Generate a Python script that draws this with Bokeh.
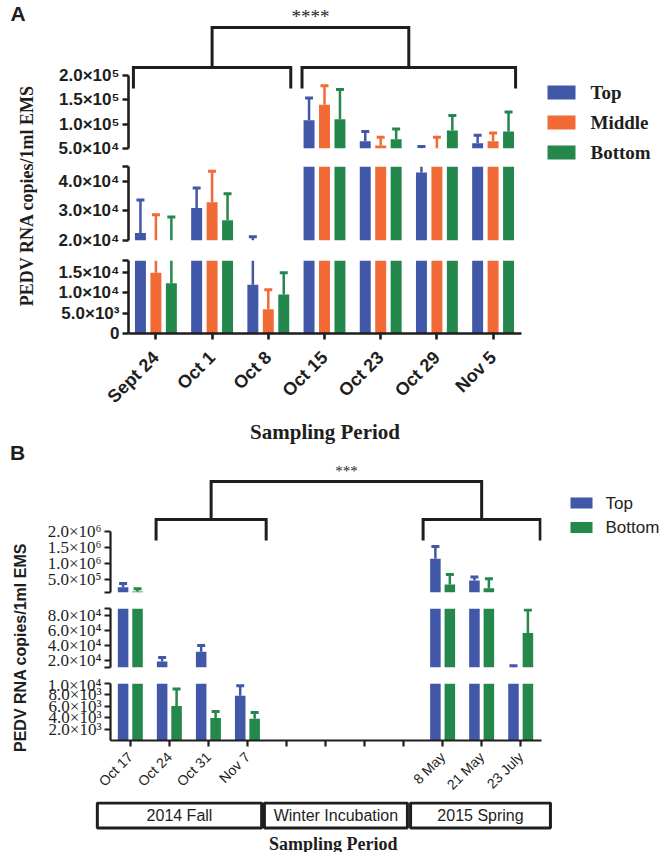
import math
import numpy as np
from bokeh.plotting import figure
from bokeh.layouts import row, column
from bokeh.models import Range1d, FixedTicker, ColumnDataSource
from bokeh.core.properties import value
from bokeh.embed import file_html
from bokeh.resources import INLINE

nan = float("nan")

# ---------------- Panel A data ----------------
dates_A = ["Sept 24", "Oct 1", "Oct 8", "Oct 15", "Oct 23", "Oct 29", "Nov 5"]
top_A = [2.25e4, 3.1e4, 1.2e4, 1.08e5, 6.5e4, 4.3e4, 6.1e4]
top_A_err = [3.37e4, 3.77e4, 2.13e4, 1.54e5, 8.5e4, 5.4e4, 7.7e4]
middle_A = [1.5e4, 3.29e4, 6.0e3, 1.4e5, 5.6e4, 5.05e4, 6.5e4]
middle_A_err = [2.87e4, 4.34e4, 1.08e4, 1.79e5, 7.3e4, 7.3e4, 8.2e4]
bottom_A = [1.24e4, 2.68e4, 9.6e3, 1.1e5, 6.9e4, 8.7e4, 8.5e4]
bottom_A_err = [2.79e4, 3.58e4, 1.5e4, 1.71e5, 9.0e4, 1.18e5, 1.25e5]
series_A = ["Top", "Middle", "Bottom"]
sig_A = "****"

ticks_A_top = [50000, 100000, 150000, 200000]
labels_A_top = ["5.0×10⁴", "1.0×10⁵", "1.5×10⁵", "2.0×10⁵"]
ticks_A_mid = [20000, 30000, 40000, 45000]
labels_A_mid = ["2.0×10⁴", "3.0×10⁴", "4.0×10⁴", ""]
ticks_A_bot = [0, 5000, 10000, 15000, 18000]
labels_A_bot = ["0", "5.0×10³", "1.0×10⁴", "1.5×10⁴", ""]

# ---------------- Panel B data ----------------
dates_B = ["Oct 17", "Oct 24", "Oct 31", "Nov 7", "", "", "", "", "8 May", "21 May", "23 July"]
top_B = [2.65e5, 1.8e4, 3.13e4, 7.86e3, nan, nan, nan, nan, 1.15e6, 4.7e5, 1.02e4]
top_B_err = [3.8e5, 2.37e4, 4.0e4, 9.6e3, nan, nan, nan, nan, 1.53e6, 5.8e5, 1.25e4]
bottom_B = [1.3e5, 6.06e3, 3.94e3, 3.8e3, nan, nan, nan, nan, 3.5e5, 2.3e5, 5.67e4]
bottom_B_err = [2.2e5, 9.04e3, 5.1e3, 4.9e3, nan, nan, nan, nan, 6.6e5, 5.3e5, 8.8e4]
series_B = ["Top", "Bottom"]
seasons_B = ["2014 Fall", "Winter Incubation", "2015 Spring"]
sig_B = "***"

ticks_B_top = [100000, 500000, 1000000, 1500000, 2000000]
labels_B_top = ["", "5.0×10⁵", "1.0×10⁶", "1.5×10⁶", "2.0×10⁶"]
ticks_B_mid = [10000, 20000, 40000, 60000, 80000, 90000]
labels_B_mid = ["", "2.0×10⁴", "4.0×10⁴", "6.0×10⁴", "8.0×10⁴", ""]
ticks_B_bot = [2000, 4000, 6000, 8000, 10000]
labels_B_bot = ["2.0×10³", "4.0×10³", "6.0×10³", "8.0×10³", "1.0×10⁴"]

y_title = "PEDV RNA copies/1ml EMS"
x_title = "Sampling Period"

# ---------------- styles / layout (page pixels) ----------------
BLUE, ORANGE, GREEN, INK = "#4157A7", "#F26A36", "#24874B", "#1E1E1E"
TITLE_W, PAGE_W, PAGE_H = 44, 665, 852

# page-pixel mapping of category index: (pixel of index 0, pixels per category)
XMAP_A = (155.4, 56.2)
XMAP_B = (126.0, 39.4)
BAR_W_A, OFFS_A = 0.195, [-0.275, 0.0, 0.275]
BAR_W_B, OFFS_B = 0.27, [-0.185, 0.185]
BRACKETS_A = dict(groups=[(-0.4, 2.4), (2.6, 6.4)], top=27, low=67, tick=88, star=16)
BRACKETS_B = dict(groups=[(0.66, 3.48), (7.5, 10.5)], top=481, low=519, tick=540, star=470)
SEASON_BOX_B = [(-0.74, 3.43), (3.5, 7.13), (7.21, 10.76)]


def x_range_for(xmap, left_px, right_px):
    origin, step = xmap
    return Range1d((left_px - origin) / step, (right_px - origin) / step)


def y_range_for(ymap, top_px, bottom_px):
    v_lo, p_lo, v_hi, p_hi = ymap
    k = (v_hi - v_lo) / (p_lo - p_hi)
    return Range1d(v_lo - (bottom_px - p_lo) * k, v_hi + (p_hi - top_px) * k)


def piece(canvas, frame, span, xspan, xmap, ymap, ticks, labels, yfont, show_x=False):
    ct, cb = canvas
    ft, fb = frame
    x0, x1 = span          # canvas left/right
    fl, fr = xspan         # frame left/right
    p = figure(width=x1 - x0, height=cb - ct,
               x_range=x_range_for(xmap, fl, fr),
               y_range=y_range_for(ymap, ft, fb),
               x_axis_location="below" if show_x else None, y_axis_location="left",
               output_backend="svg", toolbar_location=None,
               min_border_left=fl - x0, min_border_right=x1 - fr,
               min_border_top=ft - ct, min_border_bottom=cb - fb)
    p.outline_line_color = None
    p.grid.visible = False
    ax = p.yaxis[0]
    ax.ticker = FixedTicker(ticks=ticks, minor_ticks=[])
    ax.major_label_overrides = dict(zip(ticks, labels))
    ax.bounds = (ymap[0], ymap[2])
    ax.axis_line_color = INK
    ax.axis_line_width = yfont["lw"]
    ax.major_tick_line_color = INK
    ax.major_tick_line_width = yfont["lw"]
    ax.major_tick_out = 6
    ax.major_tick_in = 0
    ax.minor_tick_line_color = None
    ax.major_label_text_font = yfont["font"]
    ax.major_label_text_font_size = yfont["size"]
    ax.major_label_text_font_style = yfont["style"]
    ax.major_label_text_color = INK
    ax.major_label_standoff = 3
    return p, (ymap[0], ymap[2])


def style_x(p, n, dates, font, size, style, lw, standoff):
    ax = p.xaxis[0]
    ax.ticker = FixedTicker(ticks=list(range(n)), minor_ticks=[])
    ax.major_label_overrides = {i: d for i, d in enumerate(dates)}
    ax.major_label_orientation = math.pi / 4
    ax.axis_line_color = INK
    ax.axis_line_width = lw
    ax.major_tick_line_color = INK
    ax.major_tick_line_width = lw
    ax.major_tick_out = 6
    ax.major_tick_in = 0
    ax.minor_tick_line_color = None
    ax.major_label_text_font = font
    ax.major_label_text_font_size = size
    ax.major_label_text_font_style = style
    ax.major_label_text_color = INK
    ax.major_label_standoff = standoff


def bars(p, xs, vals, errs, color, width, lo, hi):
    v = np.array(vals, float)
    e = np.array(errs, float)
    bar_top = np.where(v > lo, v, nan)
    err_on = (e > lo) & (v < hi)
    err_lo = np.where(err_on, np.maximum(v, lo), nan)
    err_hi = np.where(err_on, np.minimum(e, hi), nan)
    cap = np.where(err_on & (e <= hi), e, nan)
    src = ColumnDataSource(dict(x=xs, top=bar_top, elo=err_lo, ehi=err_hi, cap=cap))
    p.vbar(x="x", top="top", bottom=lo, width=width, fill_color=color, line_color=None, source=src)
    p.segment(x0="x", y0="elo", x1="x", y1="ehi", line_color=color, line_width=2.5, source=src)
    p.scatter(x="x", y="cap", marker="dash", size=8, line_color=color, line_width=3, source=src)


def brackets(p, spec, star, size):
    (l1, r1), (l2, r2) = spec["groups"]
    c1, c2 = (l1 + r1) / 2, (l2 + r2) / 2
    xs = [[l1, l1, r1, r1], [l2, l2, r2, r2], [c1, c1, c2, c2]]
    ys = [[spec["tick"], spec["low"], spec["low"], spec["tick"]],
          [spec["tick"], spec["low"], spec["low"], spec["tick"]],
          [spec["low"], spec["top"], spec["top"], spec["low"]]]
    p.multi_line(xs=xs, ys=ys, line_color=INK, line_width=3, line_join="miter", y_range_name="px")
    p.text(x=[(c1 + c2) / 2], y=[spec["star"]], text=[star], text_align="center", text_baseline="middle",
           text_font=value("Liberation Serif"), text_font_size=size, text_color=INK, y_range_name="px")


def px_fig(xspan, yspan):
    xl, xr = xspan
    yt, yb = yspan
    p = figure(width=xr - xl, height=yb - yt, x_range=Range1d(xl, xr), y_range=Range1d(yb, yt),
               x_axis_location=None, y_axis_location=None, output_backend="svg",
               toolbar_location=None, min_border=0)
    p.outline_line_color = None
    p.grid.visible = False
    return p


def legend_fig(xspan, yspan, names, colors, box_x, box_w, box_h, first_y, pitch, text_x, font, size, style):
    p = px_fig(xspan, yspan)
    tops = [first_y + i * pitch for i in range(len(names))]
    p.quad(left=box_x, right=box_x + box_w, top=tops, bottom=[t + box_h for t in tops],
           fill_color=colors, line_color=None)
    p.text(x=[text_x] * len(names), y=[t + box_h / 2 for t in tops], text=names,
           text_align="left", text_baseline="middle", text_font=value(font),
           text_font_size=size, text_font_style=style, text_color=INK)
    return p


A_BOTTOM, B_AXIS_BOTTOM = 448, 801

# ================= Panel A =================
yA = dict(font="Liberation Sans", size="17px", style="bold", lw=2.6)
SPAN_A, FRAME_X_A = (TITLE_W, 535), (128, 521)
segA_top, limA_top = piece((0, 158), (0, 148), SPAN_A, FRAME_X_A, XMAP_A, (5e4, 148, 2e5, 75), ticks_A_top, labels_A_top, yA)
segA_mid, limA_mid = piece((158, 250), (166, 240), SPAN_A, FRAME_X_A, XMAP_A, (2e4, 240, 4.5e4, 166), ticks_A_mid, labels_A_mid, yA)
segA_bot, limA_bot = piece((250, A_BOTTOM), (260, 333), SPAN_A, FRAME_X_A, XMAP_A, (0, 333, 1.8e4, 260), ticks_A_bot, labels_A_bot, yA, show_x=True)
style_x(segA_bot, len(dates_A), dates_A, "Liberation Sans", "18px", "bold", 2.6, 15)
xa = segA_bot.xaxis[0]
xa.axis_label = x_title
xa.axis_label_text_font = "Liberation Serif"
xa.axis_label_text_font_style = "bold"
xa.axis_label_text_font_size = "21px"
xa.axis_label_text_color = INK
xa.axis_label_standoff = 3

idx_A = np.arange(len(dates_A))
colors_A = [BLUE, ORANGE, GREEN]
vals_A = [(top_A, top_A_err), (middle_A, middle_A_err), (bottom_A, bottom_A_err)]
for seg, (lo, hi) in ((segA_top, limA_top), (segA_mid, limA_mid), (segA_bot, limA_bot)):
    for (v, e), c, o in zip(vals_A, colors_A, OFFS_A):
        bars(seg, idx_A + o, v, e, c, BAR_W_A, lo, hi)

segA_top.extra_y_ranges = {"px": Range1d(148, 0)}
brackets(segA_top, BRACKETS_A, sig_A, "19px")

legA = legend_fig((535, PAGE_W), (0, A_BOTTOM), series_A, colors_A, 547, 28, 14, 85, 30, 590,
                  "Liberation Serif", "19px", "bold")

# ================= Panel B =================
yB = dict(font="Liberation Serif", size="17px", style="normal", lw=2.2)
SPAN_B, FRAME_X_B = (TITLE_W, 550), (106, 541)
segB_top, limB_top = piece((A_BOTTOM, 600), (A_BOTTOM, 592), SPAN_B, FRAME_X_B, XMAP_B, (1e5, 592, 2e6, 531), ticks_B_top, labels_B_top, yB)
segB_mid, limB_mid = piece((600, 675), (608, 667), SPAN_B, FRAME_X_B, XMAP_B, (1e4, 667, 9e4, 608), ticks_B_mid, labels_B_mid, yB)
segB_bot, limB_bot = piece((675, B_AXIS_BOTTOM), (683, 743), SPAN_B, FRAME_X_B, XMAP_B, (0, 743, 1e4, 683), ticks_B_bot, labels_B_bot, yB, show_x=True)
style_x(segB_bot, len(dates_B), dates_B, "Liberation Sans", "14px", "normal", 2.2, 8)

idx_B = np.arange(len(dates_B))
colors_B = [BLUE, GREEN]
vals_B = [(top_B, top_B_err), (bottom_B, bottom_B_err)]
for seg, (lo, hi) in ((segB_top, limB_top), (segB_mid, limB_mid), (segB_bot, limB_bot)):
    for (v, e), c, o in zip(vals_B, colors_B, OFFS_B):
        bars(seg, idx_B + o, v, e, c, BAR_W_B, lo, hi)

segB_top.extra_y_ranges = {"px": Range1d(592, A_BOTTOM)}
brackets(segB_top, BRACKETS_B, sig_B, "15px")

legB = legend_fig((550, PAGE_W), (A_BOTTOM, B_AXIS_BOTTOM), series_B, colors_B, 570, 22, 11, 497, 24.5, 605,
                  "Liberation Sans", "17px", "normal")

boxB = figure(width=PAGE_W - TITLE_W, height=PAGE_H - B_AXIS_BOTTOM,
              x_range=x_range_for(XMAP_B, TITLE_W, PAGE_W), y_range=Range1d(PAGE_H, B_AXIS_BOTTOM),
              x_axis_location=None, y_axis_location=None, output_backend="svg",
              toolbar_location=None, min_border=0)
boxB.outline_line_color = None
boxB.grid.visible = False
boxB.quad(left=[a for a, b in SEASON_BOX_B], right=[b for a, b in SEASON_BOX_B], top=802.5, bottom=827.5,
          fill_color="white", line_color=INK, line_width=3)
boxB.text(x=[(a + b) / 2 for a, b in SEASON_BOX_B], y=[815] * 3, text=seasons_B,
          text_align="center", text_baseline="middle", text_font=value("Liberation Sans"),
          text_font_size="16px", text_color=INK)
boxB.text(x=[5.25], y=[843], text=[x_title], text_align="center", text_baseline="middle",
          text_font=value("Liberation Serif"), text_font_style="bold", text_font_size="18px", text_color=INK)

# ================= left column: panel letters and y titles =================
titles = px_fig((0, TITLE_W), (0, PAGE_H))
titles.text(x=[17.5, 17], y=[13, 452], text=["A", "B"], text_align="center", text_baseline="middle",
            text_font=value("Liberation Sans"), text_font_style="bold", text_font_size="21px", text_color=INK)
titles.text(x=[26], y=[195], text=[y_title], angle=math.pi / 2, text_align="center", text_baseline="middle",
            text_font=value("Liberation Serif"), text_font_style="bold", text_font_size="18px", text_color=INK)
titles.text(x=[20], y=[647], text=[y_title], angle=math.pi / 2, text_align="center", text_baseline="middle",
            text_font=value("Liberation Sans"), text_font_style="bold", text_font_size="16px", text_color=INK)

layout = row(titles,
             column(row(column(segA_top, segA_mid, segA_bot), legA),
                    row(column(segB_top, segB_mid, segB_bot), legB),
                    boxB))

open("out.html", "w").write(file_html(layout, INLINE))
